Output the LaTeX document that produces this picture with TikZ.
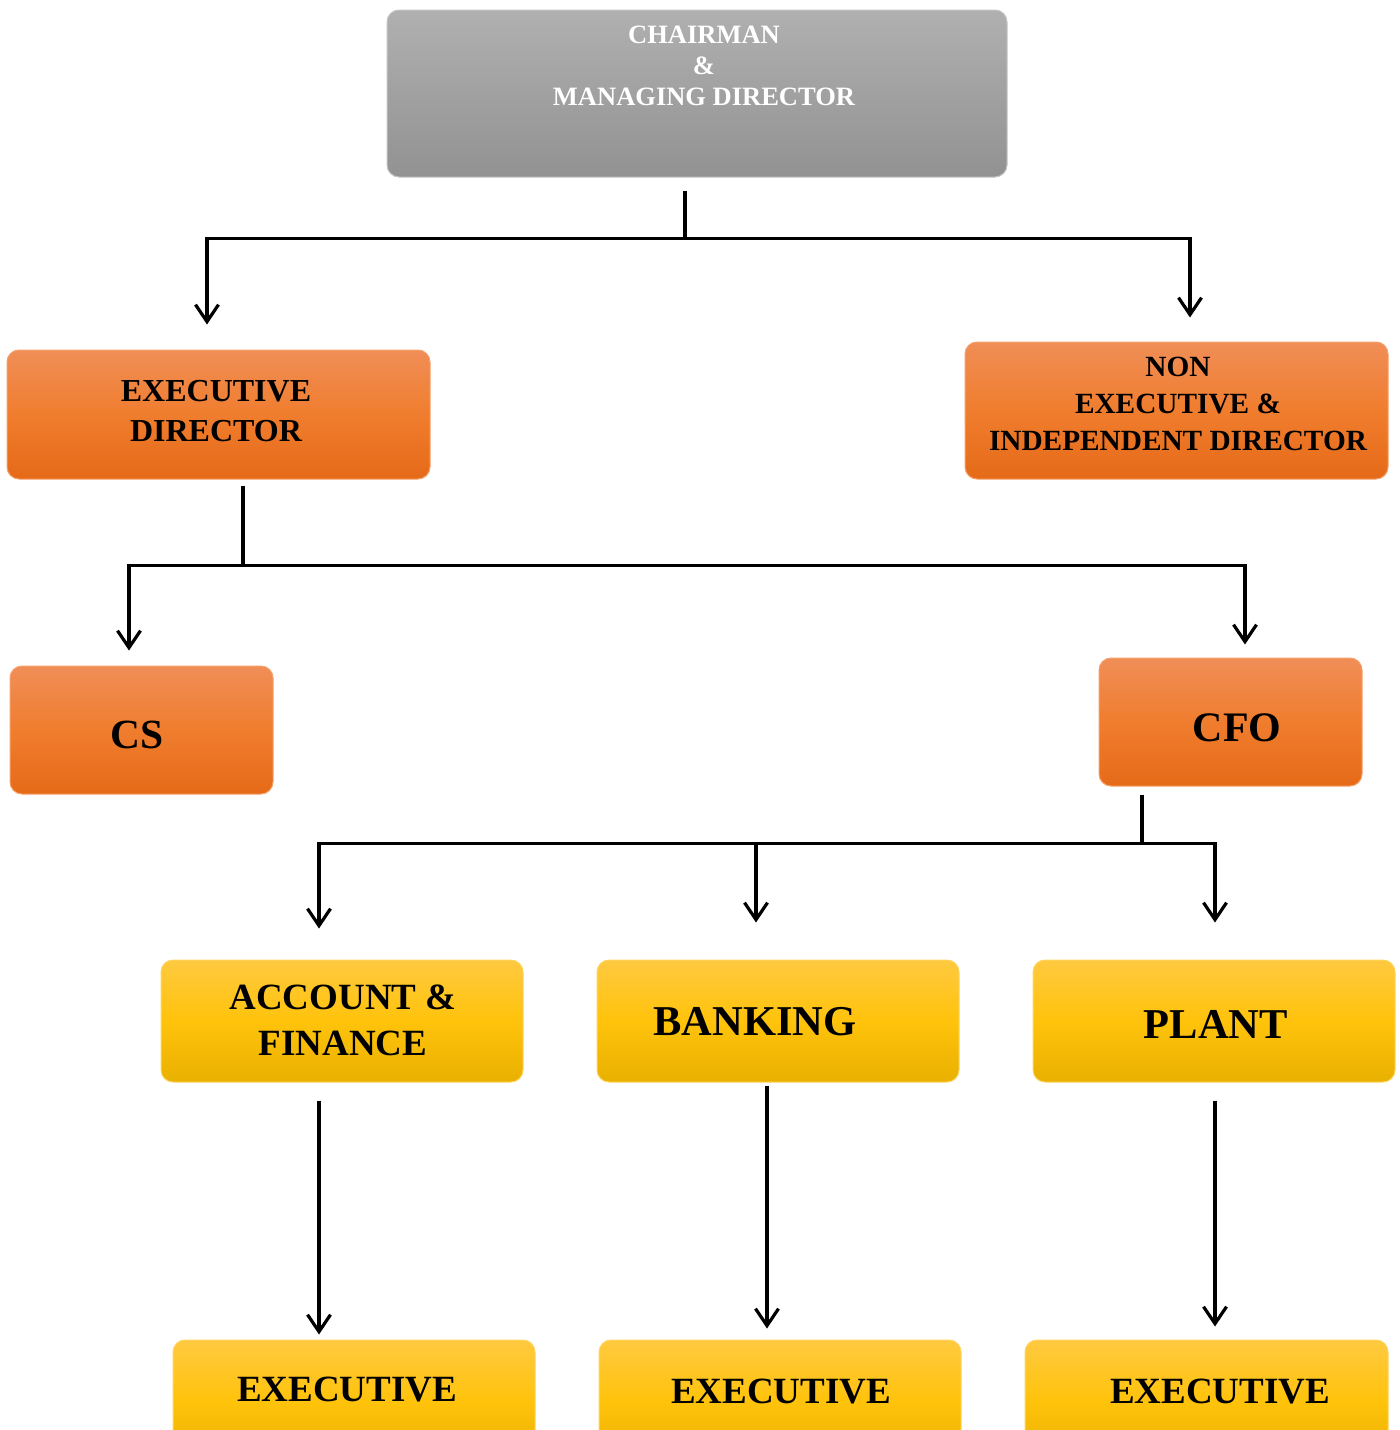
\documentclass[tikz,border=0pt]{standalone}
\usepackage{fontspec}
\setmainfont{Liberation Serif}
\usetikzlibrary{arrows.meta,calc}
\definecolor{gtop}{HTML}{B0B0B0}
\definecolor{gbot}{HTML}{929292}
\definecolor{gline}{HTML}{C4C4C4}
\definecolor{otop}{HTML}{F08E57}
\definecolor{omid}{HTML}{F07D2E}
\definecolor{obot}{HTML}{E56A18}
\definecolor{oline}{HTML}{F5A06A}
\definecolor{ytop}{HTML}{FFC940}
\definecolor{ymid}{HTML}{FFC30B}
\definecolor{ybot}{HTML}{E8B000}
\definecolor{yline}{HTML}{FFD45E}
\begin{document}
\begin{tikzpicture}[x=1pt,y=-1pt,
  box/.style={rounded corners=12pt, inner sep=0pt, line width=1pt},
  graybox/.style={box, draw=gline, top color=gtop, bottom color=gbot},
  orangebox/.style={box, draw=oline, top color=otop, bottom color=obot, middle color=omid},
  yellowbox/.style={box, draw=yline, top color=ytop, bottom color=ybot, middle color=ymid},
  lbl/.style={font=\bfseries, align=center, text=black, inner sep=0pt},
  link/.style={line width=3.7pt, line join=miter},
  arr/.style={link, -{Straight Barb[length=17pt,width=23pt,line width=3.2pt]}}
]
\clip (0,0) rectangle (1400,1430);
% boxes
\node[graybox, minimum width=620pt, minimum height=167pt] (chair) at (697,93.5) {};
\node[orangebox, minimum width=423pt, minimum height=129pt] (ed) at (218.5,414.5) {};
\node[orangebox, minimum width=423pt, minimum height=137pt] (ne) at (1176.5,410.5) {};
\node[orangebox, minimum width=263pt, minimum height=128pt] (cs) at (141.5,730) {};
\node[orangebox, minimum width=263pt, minimum height=128pt] (cfo) at (1230.5,722) {};
\node[yellowbox, minimum width=362pt, minimum height=122pt] (acc) at (342,1021) {};
\node[yellowbox, minimum width=362pt, minimum height=122pt] (bank) at (778,1021) {};
\node[yellowbox, minimum width=362pt, minimum height=122pt] (plant) at (1214,1021) {};
\node[yellowbox, minimum width=362pt, minimum height=122pt] (ex1) at (354,1401) {};
\node[yellowbox, minimum width=362pt, minimum height=122pt] (ex2) at (780,1401) {};
\node[yellowbox, minimum width=363pt, minimum height=122pt] (ex3) at (1206.5,1401) {};
% texts
\node[lbl, text=white, font=\bfseries\fontsize{26.5}{31}\selectfont] (chairT) at ($(chair.center)+(7,-27.5)$) {CHAIRMAN\\\&\\MANAGING DIRECTOR};
\node[lbl, font=\bfseries\fontsize{32}{40}\selectfont] (edT) at ($(ed.center)+(-2.5,-3.5)$) {EXECUTIVE\\DIRECTOR};
\node[lbl, font=\bfseries\fontsize{29.3}{37}\selectfont] (neT) at ($(ne.center)+(1.5,-6.5)$) {NON\\EXECUTIVE \&\\INDEPENDENT DIRECTOR};
\node[lbl, font=\bfseries\fontsize{41.5}{48}\selectfont] (csT) at ($(cs.center)+(-4.5,5)$) {CS};
\node[lbl, font=\bfseries\fontsize{42}{48}\selectfont] (cfoT) at ($(cfo.center)+(6.5,6)$) {CFO};
\node[lbl, font=\bfseries\fontsize{37}{46}\selectfont] (accT) at ($(acc.center)+(1,-1)$) {ACCOUNT \&\\FINANCE};
\node[lbl, font=\bfseries\fontsize{42.5}{48}\selectfont] (bankT) at ($(bank.center)+(-23,1)$) {BANKING};
\node[lbl, font=\bfseries\fontsize{42.5}{48}\selectfont] (plantT) at ($(plant.center)+(2,3)$) {PLANT};
\node[lbl, font=\bfseries\fontsize{37}{44}\selectfont] (ex1T) at ($(ex1.center)+(-7,-11)$) {EXECUTIVE};
\node[lbl, font=\bfseries\fontsize{37}{44}\selectfont] (ex2T) at ($(ex2.center)+(1,-9)$) {EXECUTIVE};
\node[lbl, font=\bfseries\fontsize{37}{44}\selectfont] (ex3T) at ($(ex3.center)+(13.5,-9)$) {EXECUTIVE};
% junctions
\coordinate (j1) at ($(chair.south)+(-12,61)$);
\coordinate (j2) at ($(ed.south)+(24.5,86)$);
\coordinate (j3) at ($(cfo.south)+(-88.5,57)$);
% connectors
\draw[link] ($(chair.south)+(-12,13)$) -- (j1);
\draw[arr] (j1) -| ($(ed.north)+(-11.5,-25)$);
\draw[arr] (j1) -| ($(ne.north)+(13.5,-24)$);
\draw[link] ($(ed.south)+(24.5,6)$) -- (j2);
\draw[arr] (j2) -| ($(cs.north)+(-12.5,-15)$);
\draw[arr] (j2) -| ($(cfo.north)+(14.5,-13)$);
\draw[link] ($(cfo.south)+(-88.5,8)$) -- (j3);
\draw[arr] (j3) -| ($(acc.north)+(-23,-31)$);
\draw[arr] (j3) -| ($(bank.north)+(-22,-37)$);
\draw[arr] (j3) -| ($(plant.north)+(1,-37)$);
\draw[arr] ($(acc.south)+(-23,18)$) -- ($(ex1.north)+(-35,-5)$);
\draw[arr] ($(bank.south)+(-11,3)$) -- ($(ex2.north)+(-13,-11)$);
\draw[arr] ($(plant.south)+(1,18)$) -- ($(ex3.north)+(8.5,-13)$);
\end{tikzpicture}
\end{document}
